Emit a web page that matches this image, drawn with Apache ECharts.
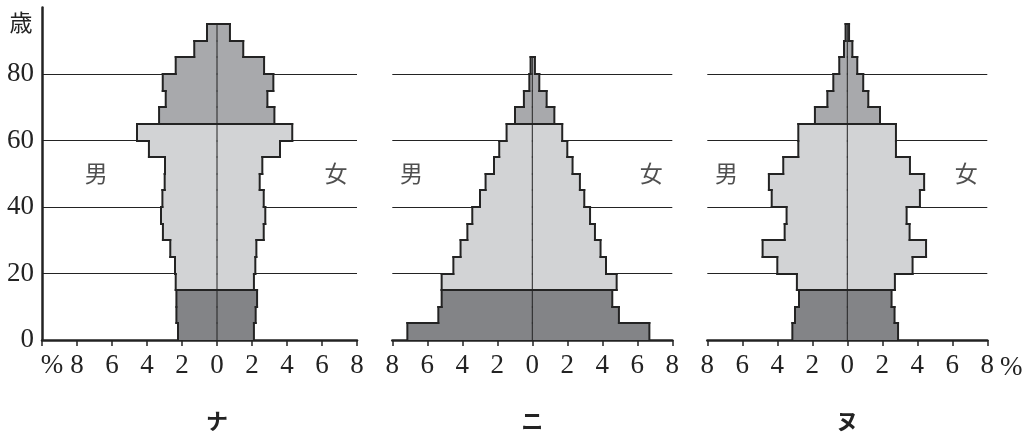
<!DOCTYPE html>
<html>
<head>
<meta charset="utf-8">
<script src="https://cdn.jsdelivr.net/npm/echarts@6/dist/echarts.min.js"></script>
<style>
    html, body { margin: 0; padding: 0; background: #fff; }
    #chart { width: 1034px; height: 435px; }
</style>
</head>
<body>
<div id="chart"></div>
<script>
// age groups (start of each 5-year band)
var ageStarts = [0, 5, 10, 15, 20, 25, 30, 35, 40, 45, 50, 55, 60, 65, 70, 75, 80, 85, 90];
var xTicks = [-8, -6, -4, -2, 0, 2, 4, 6, 8];
var panelNames = ['ナ', 'ニ', 'ヌ'];

// ナ
var naMale   = [2.23, 2.32, 2.32, 2.36, 2.40, 2.67, 3.09, 3.20, 3.12, 2.99, 2.97, 3.89, 4.57, 3.31, 2.93, 3.10, 2.36, 1.30, 0.57];
var naFemale = [2.11, 2.21, 2.29, 2.11, 2.19, 2.25, 2.67, 2.76, 2.67, 2.44, 2.59, 3.60, 4.30, 3.28, 2.88, 3.22, 2.69, 1.50, 0.74];
// ニ
var niMale   = [7.14, 5.37, 5.18, 5.18, 4.51, 4.10, 3.71, 3.43, 2.99, 2.67, 2.19, 1.89, 1.47, 0.99, 0.48, 0.17, 0.10];
var niFemale = [6.69, 4.95, 4.57, 4.82, 4.21, 3.90, 3.58, 3.30, 2.97, 2.72, 2.30, 2.00, 1.71, 1.26, 0.82, 0.40, 0.15];
// ヌ
var nuMale   = [3.14, 2.99, 2.76, 2.88, 4.00, 4.84, 3.58, 3.47, 4.32, 4.48, 3.66, 2.80, 2.80, 1.85, 1.14, 0.80, 0.46, 0.19, 0.10];
var nuFemale = [2.90, 2.70, 2.53, 2.72, 3.73, 4.50, 3.56, 3.39, 4.15, 4.39, 3.58, 2.78, 2.78, 1.87, 1.20, 0.91, 0.57, 0.29, 0.10];

var INK = '#232323';
var DARK = '#838487', LIGHT = '#d2d3d5', MID = '#a8a9ac';
var NUM_FONT = "'Liberation Serif', 'DejaVu Serif', serif";
var JP_FONT = "'Noto Sans CJK JP', sans-serif";

var chart = echarts.init(document.getElementById('chart'));

function fillOf(age) {
    if (age < 15) return DARK;
    if (age < 65) return LIGHT;
    return MID;
}

function rowsOf(male, female) {
    return male.map(function (m, i) { return [ageStarts[i], m, female[i]]; });
}

// 人口ピラミッド描画
function makeRender(rows) {
    return function (params, api) {
        var i = params.dataIndex;
        var a0 = rows[i][0], a1 = a0 + 5, m = rows[i][1], f = rows[i][2];
        var pt = function (x, y) {
            var c = api.coord([x, y]);
            return [c[0], Math.round(c[1])];
        };
        var kids = [];
        var bl = pt(-m, a0), tr = pt(f, a1);
        kids.push({
            type: 'rect',
            shape: { x: bl[0], y: tr[1], width: tr[0] - bl[0], height: bl[1] - tr[1] },
            style: { fill: fillOf(a0) },
            z2: 1
        });
        function seg(x1, y1, x2, y2, w) {
            var s = pt(x1, y1), e = pt(x2, y2);
            kids.push({
                type: 'line',
                shape: { x1: s[0], y1: s[1], x2: e[0], y2: e[1] },
                style: { stroke: INK, lineWidth: w, lineCap: 'square' },
                z2: w > 1 ? 3 : 2
            });
        }
        seg(-m, a0, -m, a1, 2);
        seg(f, a0, f, a1, 2);
        var pm = i > 0 ? rows[i - 1][1] : 0;
        var pf = i > 0 ? rows[i - 1][2] : 0;
        if (a0 === 15 || a0 === 65) {
            seg(-Math.max(pm, m), a0, Math.max(pf, f), a0, 2);
        } else if (i > 0) {
            seg(-pm, a0, -m, a0, 2);
            seg(pf, a0, f, a0, 2);
        }
        if (i === rows.length - 1) seg(-m, a1, f, a1, 2);
        seg(0, a0, 0, a1, 1);
        return { type: 'group', children: kids };
    };
}

var grids = [
    { left: 42, top: 7.5, width: 315, height: 332.5 },
    { left: 392.3, top: 7.5, width: 280, height: 332.5 },
    { left: 707.3, top: 7.5, width: 280, height: 332.5 }
];

var xAxes = [], yAxes = [], series = [];
var allRows = [rowsOf(naMale, naFemale), rowsOf(niMale, niFemale), rowsOf(nuMale, nuFemale)];

allRows.forEach(function (rows, k) {
    xAxes.push({
        gridIndex: k,
        type: 'value',
        min: k === 0 ? -10 : xTicks[0],
        max: xTicks[xTicks.length - 1],
        interval: 2,
        axisLine: { show: true, onZero: false, lineStyle: { color: INK, width: 2.5 } },
        axisTick: { show: true, length: 6, lineStyle: { color: INK, width: 1.5 } },
        splitLine: { show: false },
        axisLabel: {
            margin: 12,
            color: INK,
            fontFamily: NUM_FONT,
            fontSize: 27,
            formatter: function (v) { return v === -10 ? '{p|%}' : String(Math.abs(v)); },
            rich: { p: { fontFamily: NUM_FONT, fontSize: 27, color: INK, padding: [0, 0, 0, 20] } }
        },
        name: k === 2 ? '%' : '',
        nameLocation: 'end',
        nameGap: 12,
        nameTextStyle: { fontFamily: NUM_FONT, fontSize: 27, color: INK, verticalAlign: 'top', padding: [14, 0, 0, 0] }
    });
    yAxes.push({
        gridIndex: k,
        type: 'value',
        min: 0,
        max: 100,
        interval: 20,
        axisLine: { show: k === 0, onZero: false, lineStyle: { color: INK, width: 2.5 } },
        axisTick: { show: false },
        axisLabel: {
            show: k === 0,
            margin: 8,
            color: INK,
            fontFamily: NUM_FONT,
            fontSize: 27,
            showMaxLabel: false
        },
        splitLine: { show: true, showMinLine: false, showMaxLine: false, lineStyle: { color: INK, width: 1 } }
    });
    series.push({
        type: 'custom',
        xAxisIndex: k,
        yAxisIndex: k,
        silent: true,
        clip: false,
        renderItem: makeRender(rows),
        encode: { x: [1, 2], y: 0 },
        data: rows
    });
    // 男・女
    series.push({
        type: 'scatter',
        xAxisIndex: k,
        yAxisIndex: k,
        silent: true,
        symbolSize: 0,
        data: [{ name: '男', value: [-6.9, 50] }, { name: '女', value: [6.8, 50] }],
        label: {
            show: true,
            position: 'inside',
            formatter: '{b}',
            fontFamily: JP_FONT,
            fontSize: 23,
            color: INK
        }
    });
});

chart.setOption({
    animation: false,
    backgroundColor: '#fff',
    grid: grids,
    xAxis: xAxes,
    yAxis: yAxes,
    series: series
});

// 歳 と ナ・ニ・ヌ
var texts = [{
    type: 'text', x: 21, y: 22,
    style: { text: '歳', fontFamily: JP_FONT, fontSize: 23, fill: INK, align: 'center', verticalAlign: 'middle' }
}];
panelNames.forEach(function (name, k) {
    var x0 = chart.convertToPixel({ xAxisIndex: k }, 0);
    texts.push({
        type: 'text', x: x0, y: 421,
        style: { text: name, fontFamily: JP_FONT, fontSize: 22, fontWeight: 'bold', fill: INK, align: 'center', verticalAlign: 'middle' }
    });
});
chart.setOption({ graphic: texts });
</script>
</body>
</html>
